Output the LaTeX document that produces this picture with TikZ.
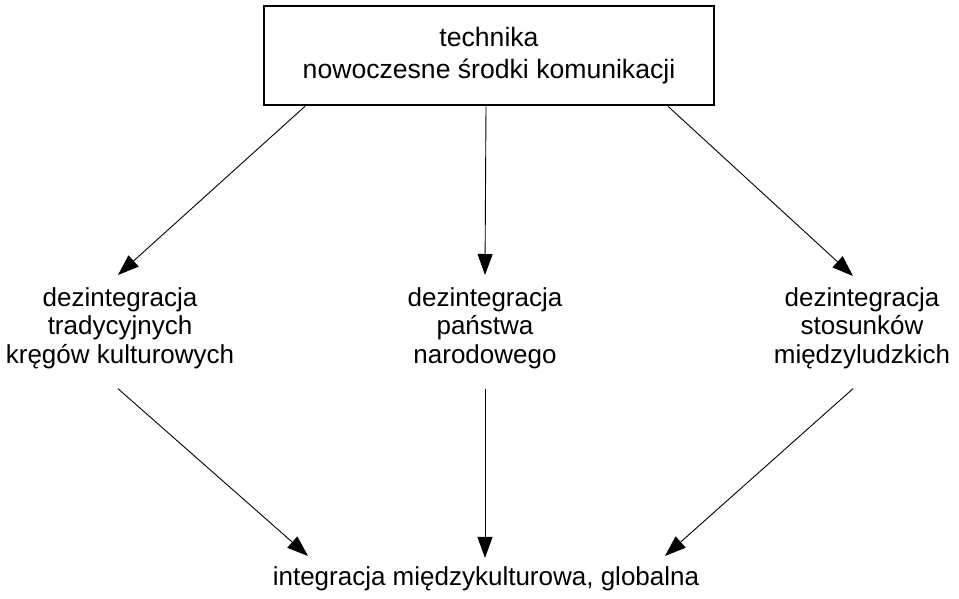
\documentclass[tikz,border=0pt]{standalone}
\usepackage{fontspec}
\setmainfont{Liberation Sans}
\usetikzlibrary{arrows.meta}
\begin{document}
\begin{tikzpicture}[x=1pt,y=-1pt,
  lbl/.style={inner sep=0pt,align=center,font=\fontsize{26}{28.5}\selectfont},
  topbox/.style={draw,line width=2.6pt,inner sep=0pt,minimum width=450pt,minimum height=99pt,align=center,font=\fontsize{26.6}{28}\selectfont},
  arr/.style={line width=0.9pt,-{Triangle[length=21pt,width=15pt]}}]
\useasboundingbox (0,0) rectangle (959,598);
\node[topbox] (box) at (489,55.5) {technika\\[4pt]nowoczesne środki komunikacji};
\node[lbl,anchor=north] (left) at (120,287) {dezintegracja\\tradycyjnych\\kręgów kulturowych};
\node[lbl,anchor=north] (mid) at (485,287) {dezintegracja\\państwa\\narodowego};
\node[lbl,anchor=north] (right) at (862,287) {dezintegracja\\stosunków\\międzyludzkich};
\node[lbl,anchor=base] (bot) at (486,585) {integracja międzykulturowa, globalna};
\draw[arr] ([xshift=-184pt]box.south) -- ([xshift=-2pt,yshift=12pt]left.north);
\draw[arr] ([xshift=-3pt]box.south) -- ([yshift=12pt]mid.north);
\draw[arr] ([xshift=179pt]box.south) -- ([xshift=-9pt,yshift=11pt]right.north);
\draw[arr] ([xshift=-2pt,yshift=-20pt]left.south) -- ([xshift=-178pt,yshift=10pt]bot.north);
\draw[arr] ([yshift=-20pt]mid.south) -- ([xshift=-1pt,yshift=8pt]bot.north);
\draw[arr] ([xshift=-9pt,yshift=-20pt]right.south) -- ([xshift=179pt,yshift=10pt]bot.north);
\end{tikzpicture}
\end{document}
